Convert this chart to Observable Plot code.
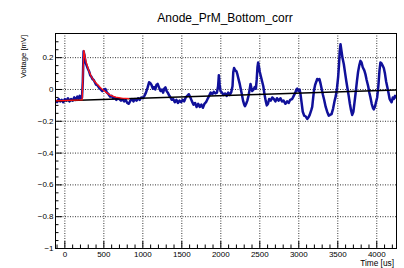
<!DOCTYPE html>
<html><head><meta charset="utf-8">
<script src="https://cdn.jsdelivr.net/npm/d3@7"></script>
<script src="https://cdn.jsdelivr.net/npm/@observablehq/plot@0.6"></script>
<style>
body{margin:0;background:#fff;}
#chart{width:404px;height:268px;}
</style></head><body><div id="chart"></div>
<script>
const title = "Anode_PrM_Bottom_corr";
const xLabel = "Time [us]";
const yLabel = "Voltage [mV]";
const xTicks = [0, 500, 1000, 1500, 2000, 2500, 3000, 3500, 4000];
const xMinorTicks = [-100, 100, 200, 300, 400, 600, 700, 800, 900, 1100, 1200, 1300, 1400, 1600, 1700, 1800, 1900, 2100, 2200, 2300, 2400, 2600, 2700, 2800, 2900, 3100, 3200, 3300, 3400, 3600, 3700, 3800, 3900, 4100, 4200];
const yTicks = [-1, -0.8, -0.6, -0.4, -0.2, 0, 0.2];
const yMinorTicks = [-0.95, -0.9, -0.85, -0.75, -0.7, -0.65, -0.55, -0.5, -0.45, -0.35, -0.3, -0.25, -0.15, -0.1, -0.05, 0.05, 0.1, 0.15, 0.25, 0.3];

// waveform (blue)
const timeUs = [-120,-100,-80,-60,-40,-20,0,20,40,60,80,100,120,140,160,175,190,205,220,230,240,250,265,280,295,310,325,340,355,370,385,400,420,440,460,480,500,520,540,560,580,600,620,640,660,680,700,720,740,760,780,800,820,840,860,880,900,920,940,960,980,1000,1020,1040,1060,1080,1095,1110,1130,1145,1160,1175,1190,1210,1227,1245,1260,1275,1290,1305,1320,1340,1355,1370,1390,1410,1430,1450,1470,1490,1510,1530,1550,1570,1590,1610,1630,1650,1670,1690,1710,1730,1750,1770,1790,1810,1830,1850,1870,1890,1910,1930,1950,1965,1975,1985,1996,2015,2035,2055,2075,2095,2115,2135,2150,2160,2170,2185,2200,2210,2225,2240,2253,2270,2285,2300,2310,2325,2340,2355,2370,2381,2392,2403,2420,2435,2450,2460,2470,2479,2490,2500,2515,2530,2545,2560,2575,2590,2605,2620,2640,2659,2680,2700,2720,2740,2765,2785,2805,2829,2850,2870,2890,2915,2935,2955,2970,2980,2995,3010,3022,3035,3051,3070,3090,3108,3125,3140,3160,3172,3185,3195,3210,3225,3236,3250,3265,3280,3295,3310,3325,3345,3364,3385,3400,3420,3440,3460,3475,3490,3505,3515,3525,3535,3545,3560,3577,3595,3610,3625,3640,3655,3670,3685,3700,3715,3727,3745,3760,3775,3791,3805,3820,3840,3855,3870,3890,3905,3919,3935,3950,3962,3975,3990,4005,4020,4035,4047,4060,4075,4090,4105,4120,4133,4150,4165,4176,4190,4205,4218,4235,4250];
const voltage = [-0.07,-0.08,-0.06,-0.075,-0.065,-0.08,-0.06,-0.07,-0.055,-0.075,-0.06,-0.07,-0.05,-0.065,-0.045,-0.06,-0.04,-0.055,-0.05,0.05,0.24,0.22,0.17,0.15,0.13,0.115,0.09,0.08,0.065,0.06,0.045,0.03,0.025,0.01,0.0,-0.01,0.0,0.003,-0.02,-0.03,-0.045,-0.04,-0.055,-0.05,-0.065,-0.055,-0.06,-0.07,-0.06,-0.075,-0.065,-0.085,-0.09,-0.07,-0.06,-0.075,-0.06,-0.07,-0.055,-0.065,-0.05,-0.055,-0.04,-0.02,0.01,0.045,0.04,0.03,0.005,0.015,0.0,0.03,0.035,0.01,-0.01,0.0,-0.02,0.005,0.013,-0.01,-0.02,-0.04,-0.05,-0.065,-0.06,-0.08,-0.065,-0.085,-0.07,-0.08,-0.065,-0.075,-0.05,-0.04,-0.03,-0.05,-0.075,-0.095,-0.085,-0.11,-0.09,-0.11,-0.095,-0.115,-0.09,-0.08,-0.06,-0.04,-0.02,-0.03,-0.015,-0.025,-0.02,0.02,0.09,0.03,-0.01,-0.02,-0.035,-0.025,-0.04,-0.02,-0.035,-0.015,0.02,0.11,0.135,0.12,0.115,0.1,0.07,0.04,0.01,-0.03,-0.07,-0.095,-0.105,-0.09,-0.07,-0.04,0.0,0.035,0.01,-0.01,0.0,0.015,0.005,0.06,0.14,0.17,0.14,0.11,0.08,0.05,0.02,-0.03,-0.07,-0.1,-0.09,-0.06,-0.07,-0.05,-0.06,-0.075,-0.055,-0.07,-0.055,-0.075,-0.07,-0.09,-0.075,-0.085,-0.065,-0.06,-0.04,-0.02,0.0,0.005,-0.01,0.0,-0.03,-0.08,-0.14,-0.165,-0.17,-0.185,-0.175,-0.16,-0.13,-0.11,-0.05,-0.005,0.03,0.05,0.066,0.06,0.065,0.035,0.0,-0.035,-0.065,-0.11,-0.14,-0.165,-0.16,-0.155,-0.12,-0.07,-0.04,0.01,0.08,0.15,0.24,0.285,0.25,0.2,0.16,0.1,0.05,0.005,-0.04,-0.09,-0.13,-0.16,-0.14,-0.08,-0.03,0.05,0.11,0.15,0.18,0.17,0.14,0.12,0.095,0.06,0.02,-0.02,-0.05,-0.09,-0.115,-0.125,-0.11,-0.08,-0.05,0.02,0.12,0.17,0.165,0.15,0.135,0.1,0.05,0.02,-0.02,-0.06,-0.07,-0.08,-0.05,-0.06,-0.04,-0.05];

// pulse fit (red)
const fitTime = [-120, 222, 232, 244, 260, 280, 308, 340, 370, 394, 430, 470, 520, 580, 650, 730, 820];
const fitVoltage = [-0.072, -0.066, 0.1, 0.245, 0.2, 0.16, 0.118, 0.08, 0.058, 0.044, 0.025, 0.005, -0.015, -0.035, -0.048, -0.055, -0.058];

// baseline (black)
const baseTime = [-120, 4253];
const baseVoltage = [-0.072, -0.003];

const wave = timeUs.map((t, i) => ({t, v: voltage[i]}));
const fit = fitTime.map((t, i) => ({t, v: fitVoltage[i]}));
const base = baseTime.map((t, i) => ({t, v: baseVoltage[i]}));

const W = 404, H = 268, mL = 55, mR = 8, mT = 33, mB = 20;
const iW = W - mL - mR, iH = H - mT - mB;
const fmt = d => d < 0 ? "\u2212" + Math.abs(d) : String(d);
const font = "'Liberation Sans', Arial, Helvetica, sans-serif";

const plot = Plot.plot({
  width: W, height: H,
  marginLeft: mL, marginRight: mR, marginTop: mT, marginBottom: mB,
  style: {fontFamily: font, fontSize: "8px", background: "white", color: "black"},
  x: {domain: [-120, 4253], axis: null},
  y: {domain: [-1, 0.352], axis: null},
  marks: [
    Plot.ruleX(xTicks, {x: d => d, stroke: "black", strokeOpacity: 0.8, strokeDasharray: "1,1.5", strokeWidth: 1}),
    Plot.ruleY(yTicks.filter(d => d > -1), {y: d => d, stroke: "black", strokeOpacity: 0.8, strokeDasharray: "1,1.5", strokeWidth: 1}),
    Plot.line(wave, {x: "t", y: "v", stroke: "#10109a", strokeWidth: 2.5, clip: true}),
    Plot.line(base, {x: "t", y: "v", stroke: "black", strokeWidth: 1.5, clip: true}),
    Plot.line(fit, {x: "t", y: "v", stroke: "#ff1010", strokeWidth: 1.3, clip: true}),
    Plot.tickX(xTicks, {x: d => d, insetTop: iH - 7, stroke: "black", strokeWidth: 1}),
    Plot.tickX(xMinorTicks, {x: d => d, insetTop: iH - 3.5, stroke: "black", strokeWidth: 1}),
    Plot.tickY(yTicks, {y: d => d, insetRight: iW - 7, stroke: "black", strokeWidth: 1}),
    Plot.tickY(yMinorTicks, {y: d => d, insetRight: iW - 3.5, stroke: "black", strokeWidth: 1}),
    Plot.axisX(xTicks, {tickSize: 0, tickPadding: 3, label: null, tickFormat: fmt, fontSize: 8}),
    Plot.axisY(yTicks, {tickSize: 0, tickPadding: 2, label: null, tickFormat: fmt, fontSize: 8}),
    Plot.frame({stroke: "black", strokeWidth: 1})
  ]
});
document.getElementById("chart").appendChild(plot);

const svg = d3.select(plot);
svg.append("text").attr("x", 225).attr("y", 22).attr("text-anchor", "middle")
  .attr("font-size", 12).attr("font-family", font).attr("fill", "black").text(title);
svg.append("text").attr("transform", "translate(26,35) rotate(-90)").attr("text-anchor", "end")
  .attr("font-size", 7.6).attr("font-family", font).attr("fill", "black").text(yLabel);
svg.append("text").attr("x", 394).attr("y", 266).attr("text-anchor", "end")
  .attr("font-size", 8.3).attr("font-family", font).attr("fill", "black").text(xLabel);
</script></body></html>
